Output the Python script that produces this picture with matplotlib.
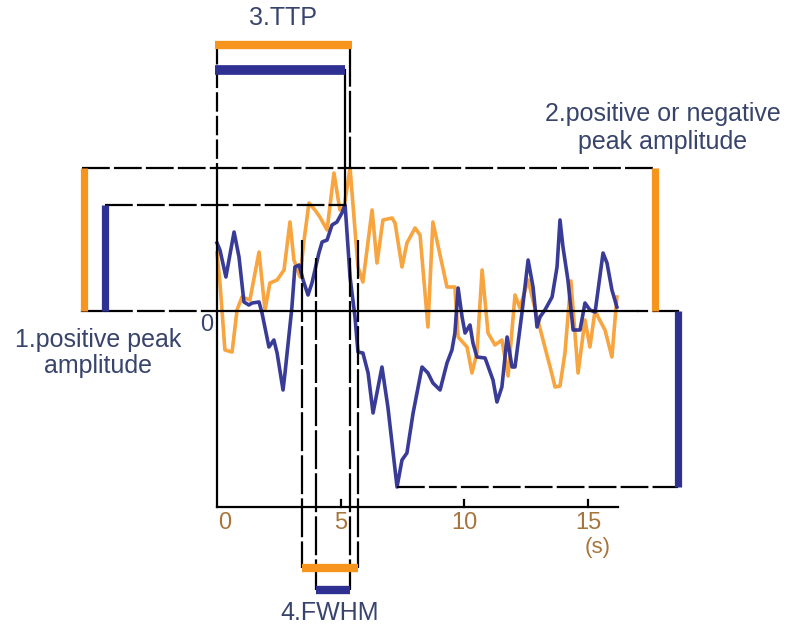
import matplotlib
matplotlib.use('Agg')
import matplotlib.pyplot as plt
import numpy as np

plt.rcParams['font.family'] = ['Liberation Sans', 'DejaVu Sans']
plt.rcParams['lines.scale_dashes'] = False

ORANGE = '#F7941D'
BLUE = '#2E3192'
TXT = '#38446c'
TICKC = '#a8743c'

# ---- data (time in s, amplitude in arbitrary units) ----
t_orange = [0.00, 0.12, 0.32, 0.61, 0.81, 1.01, 1.33, 1.70, 1.94, 2.14, 2.43, 2.71, 2.95, 3.11, 3.36,
            3.52, 3.72, 3.96, 4.16, 4.45, 4.73, 4.97, 5.14, 5.38, 5.70, 5.90, 6.27, 6.47, 6.71, 7.08,
            7.20, 7.48, 7.68, 8.01, 8.21, 8.53, 8.73, 9.30, 9.62, 9.75, 10.11, 10.31, 10.51, 10.72, 10.96,
            11.24, 11.52, 11.77, 12.05, 12.25, 12.58, 12.94, 13.47, 13.67, 13.87, 14.07, 14.31, 14.60,
            14.88, 15.08, 15.29, 15.41, 15.69, 15.97, 16.17]
y_orange = [0.58, 0.28, -0.39, -0.41, 0.01, 0.14, 0.11, 0.59, 0.01, 0.28, 0.31, 0.41, 0.89, 0.51, 0.34,
            0.71, 1.08, 1.01, 0.94, 0.81, 1.38, 1.01, 1.04, 1.43, 0.44, 0.29, 1.01, 0.48, 0.91, 0.93,
            0.88, 0.44, 0.68, 0.83, 0.76, -0.16, 0.89, 0.24, 0.24, -0.26, -0.36, -0.62, -0.42, 0.41, -0.22,
            -0.34, -0.29, -0.65, 0.16, 0.03, 0.31, -0.06, -0.56, -0.76, -0.75, -0.42, 0.30, -0.62,
            -0.09, -0.36, 0.01, -0.06, -0.19, -0.46, 0.14]

t_blue = [0.00, 0.12, 0.36, 0.69, 0.89, 1.09, 1.29, 1.42, 1.70, 1.82, 2.10, 2.30, 2.43, 2.67, 2.75,
          3.03, 3.15, 3.32, 3.48, 3.68, 3.84, 4.12, 4.25, 4.45, 4.65, 4.85, 5.05, 5.18, 5.38, 5.58,
          5.70, 5.90, 6.11, 6.31, 6.67, 6.91, 7.28, 7.48, 7.68, 7.93, 8.29, 8.53, 8.73, 9.02, 9.30,
          9.50, 9.62, 9.75, 9.91, 10.03, 10.23, 10.35, 10.51, 10.84, 11.16, 11.32, 11.52, 11.73, 11.93,
          12.05, 12.33, 12.58, 12.78, 12.94, 13.06, 13.26, 13.55, 13.75, 13.87, 13.99, 14.19, 14.40,
          14.68, 14.88, 15.08, 15.29, 15.61, 15.77, 15.97, 16.17]
y_blue = [0.68, 0.61, 0.34, 0.79, 0.54, 0.09, 0.06, 0.08, 0.09, -0.02, -0.36, -0.29, -0.42, -0.79, -0.62,
          0.04, 0.44, 0.46, 0.31, 0.16, 0.28, 0.58, 0.69, 0.71, 0.86, 0.89, 0.98, 1.06, 0.34, -0.06,
          -0.41, -0.42, -0.62, -1.02, -0.56, -0.96, -1.76, -1.49, -1.42, -1.02, -0.56, -0.62, -0.72, -0.79, -0.52,
          -0.39, -0.22, 0.23, -0.06, -0.22, -0.14, -0.32, -0.46, -0.47, -0.69, -0.91, -0.76, -0.26, -0.56,
          -0.56, -0.02, 0.51, 0.24, -0.16, -0.06, 0.01, 0.14, 0.44, 0.91, 0.64, 0.31, -0.19,
          -0.19, 0.08, 0.01, -0.01, 0.58, 0.48, 0.21, 0.04]

xticks = [0, 5, 10, 15]
xtick_labels = ['0', '5', '10', '15']
fwhm_orange = (3.44, 5.70)
fwhm_blue = (4.00, 5.38)

# ---- derived quantities ----
o_peak = max(y_orange); o_ttp = t_orange[int(np.argmax(y_orange))]
b_peak = max(y_blue);   b_ttp = t_blue[int(np.argmax(y_blue))]
b_min = min(y_blue);    b_tmin = t_blue[int(np.argmin(y_blue))]
t_end = t_orange[-1]

# ---- layout positions (data units) ----
x_left = -5.46
x_obar_l, x_bbar_l = -5.38, -4.53
x_obar_r, x_bbar_r = 17.71, 18.64
y_ttp_o, y_ttp_b = 2.66, 2.41
y_fw_o, y_fw_b = -2.57, -2.79
y_axis = -1.96

fig = plt.figure(figsize=(8, 6.4), dpi=100)
ax = fig.add_axes([0, 0, 1, 1])
ax.set_xlim(-217 / 24.73, (800 - 217) / 24.73)
ax.set_ylim(-3.29, 3.11)
ax.axis('off')

# traces
ax.plot(t_orange, y_orange, color=ORANGE, lw=2.6, alpha=0.85, zorder=3, solid_joinstyle='round')
ax.plot(t_blue, y_blue, color=BLUE, lw=2.6, alpha=0.95, zorder=4, solid_joinstyle='round')

K = dict(color='k', lw=1.6, zorder=5)
D = (20, 3)

# x axis
ax.plot([0, t_end + 0.05], [y_axis, y_axis], **K)
for xt in xticks[1:]:
    ax.plot([xt, xt], [y_axis, y_axis + 0.07], **K)
for xt, lab in zip(xticks, xtick_labels):
    ax.text(xt + (0.3 if xt == 0 else 0), y_axis - 0.16, lab, ha='center', va='center',
            fontsize=17, color=TICKC)
ax.text(15.4, -2.37, '(s)', ha='center', va='center', fontsize=16, color=TICKC)

# vertical line at t=0
ax.plot([0, 0], [y_ttp_o, o_peak], dashes=(14, 3), **K)
ax.plot([0, 0], [o_peak, y_axis], **K)

# zero line
ax.plot([x_left, x_bbar_l], [0, 0], **K)
ax.plot([x_bbar_l, 0], [0, 0], dashes=D, **K)
ax.plot([0, t_end + 0.8], [0, 0], **K)
ax.plot([t_end + 0.8, x_obar_r], [0, 0], dashes=(8, 3), **K)
ax.plot([x_obar_r, x_bbar_r], [0, 0], **K)

# peak level lines
ax.plot([x_left, x_obar_r], [o_peak, o_peak], dashes=D, **K)
ax.plot([x_bbar_l, b_ttp], [b_peak, b_peak], dashes=D, **K)
ax.plot([b_tmin, x_bbar_r], [b_min, b_min], dashes=D, **K)

# TTP verticals
ax.plot([o_ttp, o_ttp], [y_ttp_o, o_peak], dashes=(30, 3), **K)
ax.plot([b_ttp, b_ttp], [y_ttp_b, b_peak], **K)

# FWHM verticals
for tx in fwhm_orange:
    ax.plot([tx, tx], [o_peak / 2, y_fw_o], dashes=(28, 3), **K)
for tx in fwhm_blue:
    ax.plot([tx, tx], [b_peak / 2, y_fw_b], dashes=(28, 3), **K)

# colored bars
BV = dict(lw=5.2, solid_capstyle='butt', zorder=6)
BH = dict(lw=6.0, solid_capstyle='butt', zorder=6)
ax.plot([x_obar_l, x_obar_l], [0, o_peak], color=ORANGE, **BV)
ax.plot([x_bbar_l, x_bbar_l], [0, b_peak], color=BLUE, **BV)
ax.plot([x_obar_r, x_obar_r], [0, o_peak], color=ORANGE, **BV)
ax.plot([x_bbar_r, x_bbar_r], [0, b_min], color=BLUE, **BV)
ax.plot([-0.08, o_ttp + 0.08], [y_ttp_o, y_ttp_o], color=ORANGE, **BH)
ax.plot([-0.08, b_ttp], [y_ttp_b, y_ttp_b], color=BLUE, lw=7.0, solid_capstyle='butt', zorder=6)
ax.plot([fwhm_orange[0], fwhm_orange[1]], [y_fw_o, y_fw_o], color=ORANGE, **BH)
ax.plot([fwhm_blue[0], fwhm_blue[1]], [y_fw_b, y_fw_b], color=BLUE, **BH)

# labels
ax.text(2.67, 2.93, '3.TTP', ha='center', va='center', fontsize=18, color=TXT)
ax.text(4.57, -3.02, '4.FWHM', ha='center', va='center', fontsize=18, color=TXT)
ax.text(-4.81, -0.42, '1.positive peak\namplitude', ha='center', va='center',
        fontsize=18, color=TXT, linespacing=1.15)
ax.text(18.03, 1.83, '2.positive or negative\npeak amplitude', ha='center', va='center',
        fontsize=18, color=TXT, linespacing=1.2)
ax.text(-0.40, -0.14, '0', ha='center', va='center', fontsize=17, color=TXT)

fig.savefig('out.png', dpi=100)
